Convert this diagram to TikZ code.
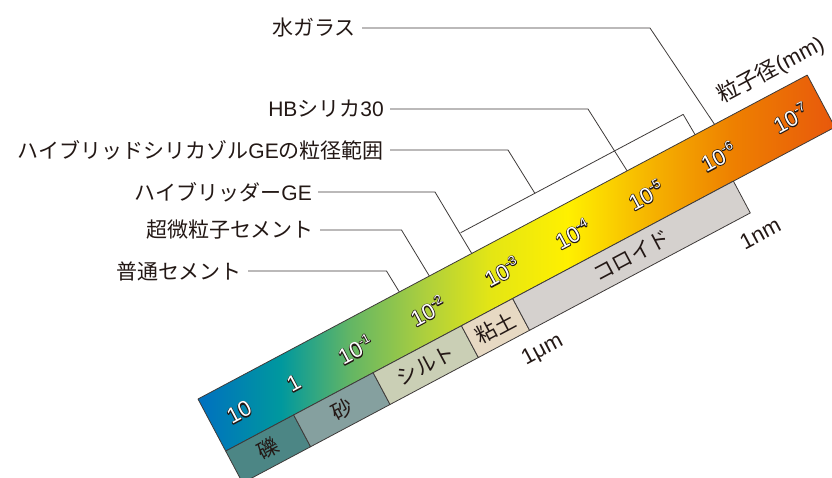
\documentclass[tikz,border=0pt]{standalone}
\usepackage{fontspec}
\setmainfont{Liberation Sans}
\newfontfamily\jp{Noto Sans CJK JP}
\usepackage{xcolor}
\usepackage{tikz}
\usetikzlibrary{calc}

\definecolor{inkline}{RGB}{62,58,57}
\definecolor{inktext}{RGB}{35,24,21}
\definecolor{gA}{RGB}{0,112,192}
\definecolor{gB}{RGB}{0,152,158}
\definecolor{gC}{RGB}{100,182,100}
\definecolor{gD}{RGB}{175,208,60}
\definecolor{gE}{RGB}{228,230,20}
\definecolor{gF}{RGB}{255,240,0}
\definecolor{gG}{RGB}{245,175,0}
\definecolor{gH}{RGB}{238,128,0}
\definecolor{gI}{RGB}{232,88,12}
\definecolor{gravel}{RGB}{76,134,133}
\definecolor{sand}{RGB}{133,160,159}
\definecolor{silt}{RGB}{202,207,181}
\definecolor{clay}{RGB}{231,217,195}
\definecolor{colloid}{RGB}{213,209,206}

\pgfdeclarehorizontalshading{sizebar}{100bp}{color(0bp)=(gA); color(25bp)=(gA);
  color(31.5bp)=(gB); color(37bp)=(gC); color(43bp)=(gD); color(48bp)=(gE);
  color(54bp)=(gF); color(61bp)=(gG); color(67bp)=(gH); color(75bp)=(gI); color(100bp)=(gI)}

% white figures with a thin dark rim (stroked copy under a filled one)
\newcommand{\halo}[1]{\rlap{\textcolor{inktext}{\special{pdf:literal direct 1 Tr 1.6 w 1 j}#1\special{pdf:literal direct 0 Tr}}}\textcolor{white}{#1}}
\newcommand{\pw}[1]{10\raisebox{9pt}{\fontsize{13}{13}\selectfont -#1}}

\tikzset{leader/.style={draw=inkline, line width=.8pt}}

\begin{document}
\begin{tikzpicture}[x=1pt, y=-1pt, line join=round]
\useasboundingbox (0,0) rectangle (832,477);

\begin{scope}[shift={(198,399)}, rotate=28, transform shape]
  \shade[shading=sizebar, draw=inkline, line width=.8pt] (0,0) rectangle (690,59);
  \draw[inkline, line width=.8pt, fill=gravel] (0,59) rectangle (77,95);
  \draw[inkline, line width=.8pt, fill=sand] (77,59) rectangle (167,95);
  \draw[inkline, line width=.8pt, fill=silt] (167,59) rectangle (267,95);
  \draw[inkline, line width=.8pt, fill=clay] (267,59) rectangle (325,95);
  \draw[inkline, line width=.8pt, fill=colloid] (325,59) rectangle (575,95);

  \begin{scope}[every node/.style={font=\fontsize{22}{24}\selectfont, inner sep=0pt}]
    \node (d1) at (30,31) {\halo{10}};
    \node (d0) at (92,31) {\halo{1}};
    \node (m1) at (162,30) {\halo{\pw{1}}};
    \node (m2) at (244,30) {\halo{\pw{2}}};
    \node (m3) at (328,30) {\halo{\pw{3}}};
    \node (m4) at (408,30) {\halo{\pw{4}}};
    \node (m5) at (491,30) {\halo{\pw{5}}};
    \node (m6) at (573,30) {\halo{\pw{6}}};
    \node (m7) at (655,30) {\halo{\pw{7}}};
  \end{scope}

  \begin{scope}[every node/.style={font=\jp\fontsize{21}{24}\selectfont, text=inktext, inner sep=0pt}]
    \node (gravelT) at (38.5,77) {礫};
    \node (sandT) at (122,77) {砂};
    \node (siltT) at (217,77) {シルト};
    \node (clayT) at (296,77) {粘土};
    \node (colloidT) at (450,77) {コロイド};
  \end{scope}

  \begin{scope}[every node/.style={font=\fontsize{22}{24}\selectfont, text=inktext, inner sep=0pt}]
    \node (um) at (327,119) {1μm};
    \node (nm) at (574,118) {1nm};
    \node (axis) at (660,-21.5) {{\jp 粒子径}(mm)};
  \end{scope}

  \coordinate (glassP) at (585,0);
  \coordinate (hbP) at (486,0);
  \coordinate (hybP) at (310,0);
  \coordinate (ultraP) at (262,0);
  \coordinate (ordP) at (228,0);
  \coordinate (rangeL) at (310,-23.5);
  \coordinate (rangeM) at (394,-23.5);
  \coordinate (rangeR) at (562,-23.5);
  \coordinate (rangeP) at (563,0);
\end{scope}

\begin{scope}[every node/.style={anchor=east, inner xsep=6pt, font=\fontsize{21}{24}\selectfont, text=inktext}]
  \node (glass) at (362,28) {{\jp 水ガラス}};
  \node (hb) at (390,109) {HB{\jp シリカ}30};
  \node (range) at (390,150) {{\jp ハイブリッドシリカゾル}GE{\jp の粒径範囲}};
  \node (hyb) at (318,192) {{\jp ハイブリッダー}GE};
  \node (ultra) at (320,230) {{\jp 超微粒子セメント}};
  \node (ord) at (248,271) {{\jp 普通セメント}};
\end{scope}

\coordinate (glassK) at (650,28);
\coordinate (hbK) at (588,109);
\coordinate (rangeK) at (508,150);
\coordinate (hybK) at (435,192);
\coordinate (ultraK) at (401.5,230);
\coordinate (ordK) at (386.5,271);

\draw[leader] (glass.east) -- (glassK) -- (glassP);
\draw[leader] (hb.east) -- (hbK) -- (hbP);
\draw[leader] (range.east) -- (rangeK) -- (rangeM);
\draw[leader] (rangeL) -- (rangeR) -- (rangeP);
\draw[leader] (hyb.east) -- (hybK) -- (hybP);
\draw[leader] (ultra.east) -- (ultraK) -- (ultraP);
\draw[leader] (ord.east) -- (ordK) -- (ordP);

\end{tikzpicture}
\end{document}
